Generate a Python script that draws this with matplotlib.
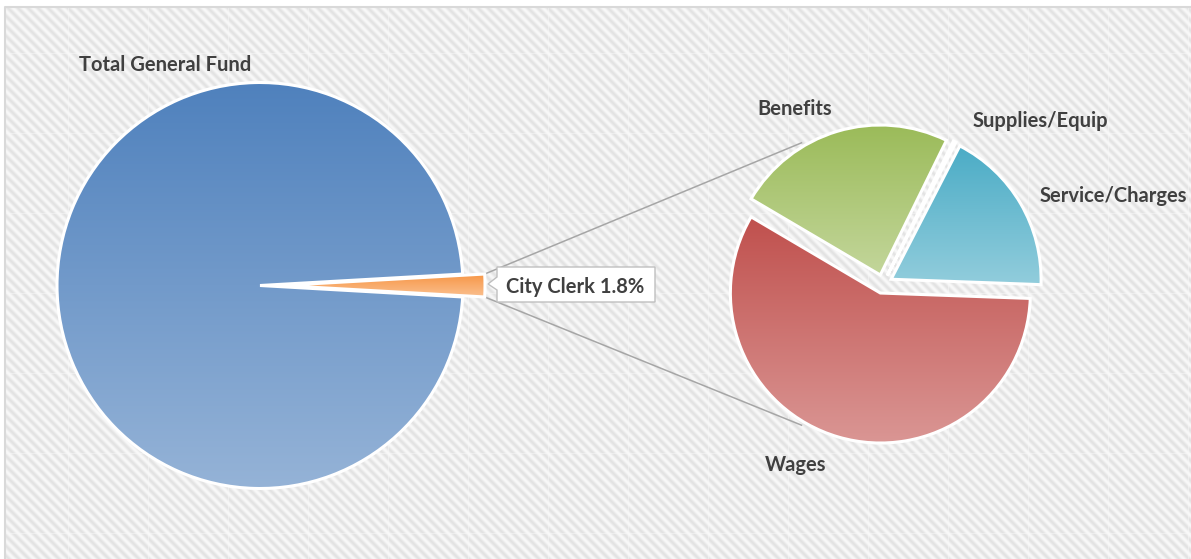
import numpy as np
import matplotlib.pyplot as plt
import matplotlib.colors as mcolors
from matplotlib.patches import PathPatch, Polygon

W, H = 1191, 559

# data
fund_labels = ["City Clerk", "Other Departments"]
fund_share = [1.8, 98.2]
clerk_labels = ["Benefits", "Supplies/Equip", "Service/Charges", "Wages"]
clerk_share = [23.8, 0.3, 18.0, 57.9]

# (top, bottom) gradient colours per slice
fund_colors = [("#F79646", "#FAC090"), ("#4F81BD", "#95B3D7")]
clerk_colors = [("#9BBB59", "#C3D69B"), ("#8064A2", "#B3A2C7"),
                ("#4BACC6", "#92CDDC"), ("#C0504D", "#DA9694")]

plt.rcParams['font.family'] = ['Lato', 'DejaVu Sans']
TXT = '#404040'
FS = 14.5

fig = plt.figure(figsize=(W / 100, H / 100), dpi=100)
ax = fig.add_axes([0, 0, 1, 1])


def py(y):
    # pixel row (from top) -> data y
    return H - y


# striped chart-area background
xx, yy = np.meshgrid(np.arange(W) + 0.5, np.arange(H) + 0.5)
stripe = 0.5 + 0.5 * np.cos(2 * np.pi * (xx - yy) / 10.0)
bg = 0.975 - 0.085 * stripe
seam = (((xx - 628) % 80) < 1.0) | (((yy - 453) % 80) < 1.0)
bg[seam] = 0.5 * (bg[seam] + 0.975)
bg[(xx < 5) | (yy < 7)] = 1.0
ax.imshow(np.dstack([bg] * 3), extent=(0, W, 0, H), origin='upper',
          aspect='auto', interpolation='nearest', zorder=0)
ax.plot([5, 5, W + 5], [py(H + 5), py(7), py(7)], color='#D9D9D9', lw=1.5, zorder=1)


def shade(w, top, bottom):
    ext = w.get_path().get_extents()
    c0 = np.array(mcolors.to_rgb(top))
    c1 = np.array(mcolors.to_rgb(bottom))
    t = np.linspace(0, 1, 256)[:, None]
    img = (c0 * (1 - t) + c1 * t)[:, None, :]
    im = ax.imshow(img, extent=(ext.x0, ext.x1, ext.y0, ext.y1), origin='upper',
                   aspect='auto', interpolation='bilinear', zorder=2)
    im.set_clip_path(w)
    ax.add_patch(PathPatch(w.get_path(), fc='none', ec='white', lw=2.2, zorder=3))


# main pie
cx1, cy1, r1 = 260, py(285.5), 203
wedges1 = ax.pie(fund_share, startangle=fund_share[0] / 100 * 180, counterclock=False,
                 radius=r1, center=(cx1, cy1), explode=[22, 0], frame=True,
                 wedgeprops=dict(lw=0))[0]
for w, (c0, c1) in zip(wedges1, fund_colors):
    shade(w, c0, c1)

# breakdown pie
cx2, cy2, r2 = 883, py(284), 150
wedges2 = ax.pie(clerk_share, startangle=149.5, counterclock=False,
                 radius=r2, center=(cx2, cy2), explode=[9.4] * 4, frame=True,
                 wedgeprops=dict(lw=0))[0]
for w, (c0, c1) in zip(wedges2, clerk_colors):
    shade(w, c0, c1)

# connector lines
cw = wedges1[0]
reach = r2 + 13
for th, end in [(cw.theta2, 120), (cw.theta1, -120)]:
    x0 = cw.center[0] + cw.r * np.cos(np.radians(th))
    y0 = cw.center[1] + cw.r * np.sin(np.radians(th))
    x1 = cx2 + reach * np.cos(np.radians(end))
    y1 = cy2 + reach * np.sin(np.radians(end))
    ax.plot([x0, x1], [y0, y1], color='#A6A6A6', lw=1.1, zorder=1.5)

# callout label for the exploded slice
box = [(497, 267), (655, 267), (655, 302), (497, 302), (497, 290), (488, 284), (497, 277)]
ax.add_patch(Polygon([(x, py(y)) for x, y in box], closed=True, fc='white',
                     ec='#BFBFBF', lw=1.0, zorder=4))
ax.text(575, py(293), f"{fund_labels[0]} {fund_share[0]}%", ha='center', va='baseline',
        fontsize=FS, fontweight='bold', color=TXT, zorder=5)

# slice labels
ax.text(165, py(71), "Total General Fund", ha='center', va='baseline',
        fontsize=FS, fontweight='bold', color=TXT, zorder=5)
label_pos = [(795, 115, 'center'), (1040, 127, 'center'), (1040, 202, 'left'), (796, 471, 'center')]
for name, (x, y, ha) in zip(clerk_labels, label_pos):
    ax.text(x, py(y), name, ha=ha, va='baseline', fontsize=FS, fontweight='bold',
            color=TXT, zorder=5)

ax.set_aspect('auto')
ax.set_xlim(0, W)
ax.set_ylim(0, H)
ax.axis('off')
fig.savefig('out.png', dpi=100)
